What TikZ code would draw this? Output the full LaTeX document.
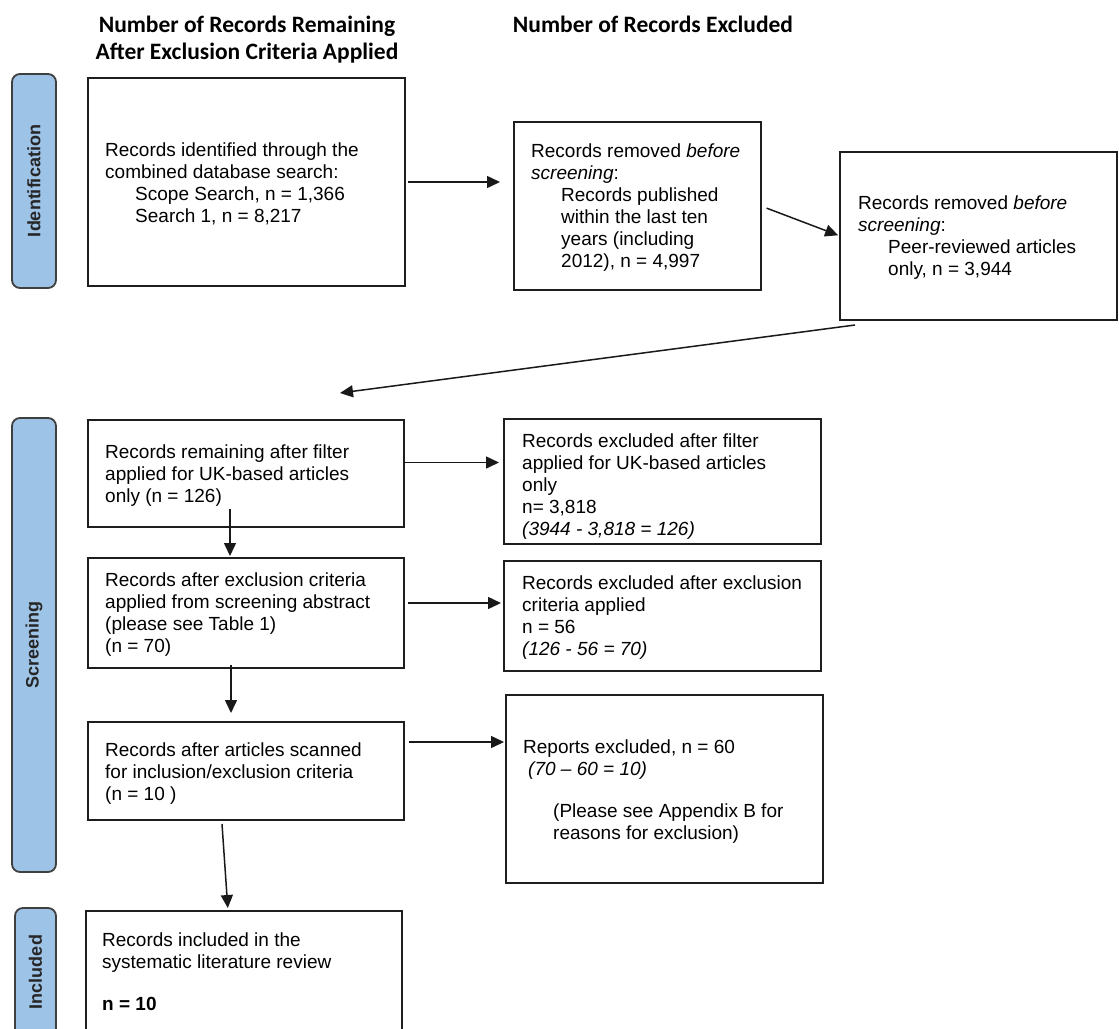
\documentclass[tikz,border=0pt]{standalone}
\usepackage{fontspec}
\setmainfont{Liberation Sans}
\newfontfamily\headfont{Carlito}
\usetikzlibrary{arrows.meta}

\definecolor{sidefill}{HTML}{9DC3E6}
\definecolor{sideline}{HTML}{3F3F3F}
\definecolor{boxline}{HTML}{1E1E1E}

\newcommand{\fstrut}{\rule{0pt}{15pt}}
\newcommand{\ind}{\hspace*{30pt}}

\tikzset{
  x=1pt, y=-1pt,
  box/.style={draw=boxline, line width=1.5pt, inner sep=0pt, outer sep=0pt, anchor=north west},
  phase/.style={draw=sideline, fill=sidefill, line width=1.8pt, rounded corners=8pt,
    inner sep=0pt, outer sep=0pt, anchor=north west, minimum width=44pt},
  phasetext/.style={rotate=90, font=\fontsize{18}{20}\selectfont\bfseries, text=black!85},
  txt/.style={anchor=north west, align=left, inner sep=0pt, font=\fontsize{19}{22}\selectfont},
  head/.style={anchor=north, align=center, inner sep=0pt, font=\headfont\fontsize{23.5}{27}\selectfont\bfseries},
  arr/.style={-{Triangle[length=13pt,width=12pt]}, line width=1.5pt, draw=black!90},
}

\begin{document}
\begin{tikzpicture}
\clip (0,0) rectangle (1119,1028);

% column headings
\node[head] (h1) at (247,14) {\rule{0pt}{18pt}Number of Records Remaining\\After Exclusion Criteria Applied};
\node[head] (h2) at (653,14) {\rule{0pt}{18pt}Number of Records Excluded};

% phase bars
\node[phase, minimum height=214pt] (pid) at (12,74) {};
\node[phasetext] at (pid.center) {Identification};
\node[phase, minimum height=454pt] (psc) at (12,418) {};
\node[phasetext] at (psc.center) {Screening};
\node[phase, minimum width=41pt, minimum height=140pt] (pin) at (15,908) {};
\node[phasetext] at ([yshift=6pt]pin.center) {Included};

% boxes
\node[box, minimum width=317pt, minimum height=208pt] (A) at (88,78) {};
\node[box, minimum width=247pt, minimum height=168pt] (B) at (514,122) {};
\node[box, minimum width=277pt, minimum height=168pt] (C) at (840,152) {};
\node[box, minimum width=316pt, minimum height=107pt] (D) at (88,420) {};
\node[box, minimum width=317pt, minimum height=125pt] (E) at (504,419) {};
\node[box, minimum width=316pt, minimum height=110pt] (F) at (88,558) {};
\node[box, minimum width=317pt, minimum height=110pt] (G) at (504,561) {};
\node[box, minimum width=316pt, minimum height=98pt]  (H) at (88,722) {};
\node[box, minimum width=317pt, minimum height=188pt] (I) at (506,695) {};
\node[box, minimum width=316pt, minimum height=140pt] (J) at (86,911) {};

% box texts
\node[txt] (tA) at (105,141) {\fstrut Records identified through the\\combined database search:\\\ind Scope Search, n = 1,366\\\ind Search 1, n = 8,217};
\node[txt] (tB) at (531,142) {\fstrut Records removed \textit{before}\\\textit{screening}:\\\ind Records published\\\ind within the last ten\\\ind years (including\\\ind 2012), n = 4,997};
\node[txt] (tC) at (858,194) {\fstrut Records removed \textit{before}\\\textit{screening}:\\\ind Peer-reviewed articles\\\ind only, n = 3,944};
\node[txt] (tD) at (105,443) {\fstrut Records remaining after filter\\applied for UK-based articles\\only (n = 126)};
\node[txt] (tE) at (522,432) {\fstrut Records excluded after filter\\applied for UK-based articles\\only\\n= 3,818\\\textit{(3944 - 3,818 = 126)}};
\node[txt] (tF) at (105,571) {\fstrut Records after exclusion criteria\\applied from screening abstract\\(please see Table 1)\\(n = 70)};
\node[txt] (tG) at (522,574) {\fstrut Records excluded after exclusion\\criteria applied\\n = 56\\\textit{(126 - 56 = 70)}};
\node[txt] (tH) at (105,741) {\fstrut Records after articles scanned\\for inclusion/exclusion criteria\\(n = 10 )};
\node[txt] (tI) at (523,738) {\fstrut Reports excluded, n = 60\\\hspace*{5pt}\textit{(70 – 60 = 10)}\\[20pt]\ind (Please see Appendix B for\\\ind reasons for exclusion)};
\node[txt] (tJ) at (102,931) {\fstrut Records included in the\\systematic literature review\\[20pt]\textbf{n = 10}};

% free end of the arrow leading into the screening phase
\coordinate (scrin) at (340,393);

% connectors
\draw[arr, shorten <=3pt, shorten >=14pt] (A.east) -- (A.east -| B.west);
\draw[arr, shorten <=6pt, shorten >=2pt] (B.east) -- (C.west);
\draw[arr] ([shift={(15pt,-5pt)}]C.south west) -- (scrin);
\draw[arr, shorten >=5pt] ([yshift=11pt]D.east) -- ([yshift=11pt]D.east -| E.west);
\draw[arr, shorten >=2pt] ([shift={(-16pt,18pt)}]D.south) -- ([xshift=-16pt]D.south |- F.north);
\draw[arr, shorten <=4pt, shorten >=3pt] ([yshift=10pt]F.east) -- ([yshift=10pt]F.east -| G.west);
\draw[arr, shorten >=9pt] ([shift={(-15pt,3pt)}]F.south) -- ([xshift=-15pt]F.south |- H.north);
\draw[arr, shorten <=5pt, shorten >=2pt] ([yshift=29pt]H.east) -- ([yshift=29pt]H.east -| I.west);
\draw[arr, shorten >=3pt] ([shift={(-24pt,-4pt)}]H.south) -- ([xshift=-16pt]J.north);
\end{tikzpicture}
\end{document}
